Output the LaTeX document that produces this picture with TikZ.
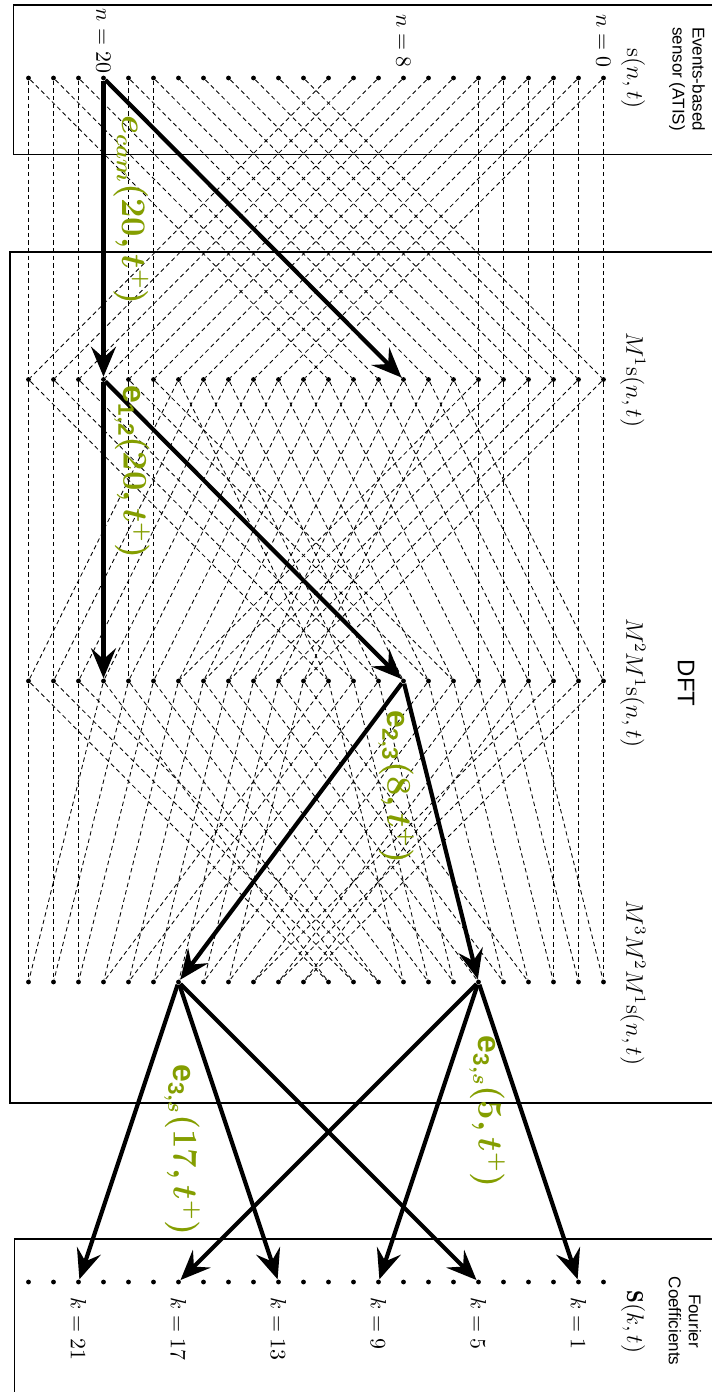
\documentclass[tikz,border=0pt]{standalone}
\usepackage{fontspec}
\setsansfont{Liberation Sans}
\usetikzlibrary{arrows.meta}
\definecolor{evgreen}{RGB}{132,158,0}
\tikzset{
  pt/.style={circle,fill=black,inner sep=0pt,minimum size=2.4pt},
  link/.style={draw=black,line width=0.42pt,dash pattern=on 2.2pt off 1.6pt},
  frame/.style={draw=black,line width=0.75pt},
  flow/.style={draw=black,line width=2.1pt,-{Stealth[length=15pt,width=12.5pt,inset=5.5pt]}},
  evlabel/.style={text=evgreen,rotate=-90,font=\fontsize{16}{19}\selectfont\boldmath,inner sep=0pt},
  rowlabel/.style={rotate=-90,inner sep=0pt,font=\fontsize{11.5}{13}\selectfont},
  idx/.style={rotate=-90,inner sep=0pt,font=\fontsize{10.5}{12}\selectfont},
  caption/.style={rotate=-90,align=center,font=\sffamily\fontsize{8.5}{10}\selectfont,inner sep=0pt}
}
\begin{document}
\begin{tikzpicture}[x=0.5pt,y=-0.5pt]
\useasboundingbox (0,0) rectangle (712,1392);
\clip (0,0) rectangle (712,1392);

% frames of the three blocks
\draw[frame] (13.5,5) rectangle (730,154.5);
\draw[frame] (10,252) rectangle (730,1103);
\draw[frame] (14.5,1239) rectangle (730,1400);

% points of the five layers
\foreach \r/\y in {0/78,1/379.5,2/681,3/982,4/1282}{
  \foreach \n in {0,...,23}{
    \node[pt] (p\r-\n) at ({603.5-25*\n},\y) {};
  }
}

% stage M^1: straight links on the outer points, +-12 crossings for all
\foreach \n in {0,1,2,3,4,5,18,19,20,21,22,23} \draw[link] (p0-\n) -- (p1-\n);
\foreach \a in {0,...,23}{
  \pgfmathtruncatemacro\b{mod(\a+12,24)}
  \draw[link] (p0-\a) -- (p1-\b);
}

% stage M^2: outer points keep their place and cross by 12,
% inner points split by +-6
\foreach \n in {0,1,2,3,4,5,18,19,20,21,22,23} \draw[link] (p1-\n) -- (p2-\n);
\foreach \a in {0,1,2,3,4,5}{
  \pgfmathtruncatemacro\b{\a+12}
  \draw[link] (p1-\a) -- (p2-\b);
}
\foreach \a in {18,19,20,21,22,23}{
  \pgfmathtruncatemacro\b{\a-12}
  \draw[link] (p1-\a) -- (p2-\b);
}
\foreach \a in {6,...,17}{
  \pgfmathtruncatemacro\b{\a-6}
  \pgfmathtruncatemacro\c{\a+6}
  \draw[link] (p1-\a) -- (p2-\b);
  \draw[link] (p1-\a) -- (p2-\c);
}

% stage M^3: three outer points on each side keep their place,
% the others split by 3 and 9
\foreach \n in {0,1,2,21,22,23} \draw[link] (p2-\n) -- (p3-\n);
\foreach \a in {0,1,2}{
  \pgfmathtruncatemacro\b{\a+12}
  \draw[link] (p2-\a) -- (p3-\b);
}
\foreach \a in {21,22,23}{
  \pgfmathtruncatemacro\b{\a-12}
  \draw[link] (p2-\a) -- (p3-\b);
}
\foreach \a in {3,...,11}{
  \pgfmathtruncatemacro\b{\a-3}
  \pgfmathtruncatemacro\c{\a+9}
  \draw[link] (p2-\a) -- (p3-\b);
  \draw[link] (p2-\a) -- (p3-\c);
}
\foreach \a in {12,...,20}{
  \pgfmathtruncatemacro\b{\a+3}
  \pgfmathtruncatemacro\c{\a-9}
  \draw[link] (p2-\a) -- (p3-\b);
  \draw[link] (p2-\a) -- (p3-\c);
}

% propagation of one event
\draw[flow] (p0-20) -- (p1-20);
\draw[flow] (p0-20) -- (p1-8);
\draw[flow] (p1-20) -- (p2-20);
\draw[flow] (p1-20) -- (p2-8);
\draw[flow] (p2-8) -- (p3-17);
\draw[flow] (p2-8) -- (p3-5);
\foreach \k in {21,13,5} \draw[flow] (p3-17) -- (p4-\k);
\foreach \k in {1,9,17} \draw[flow] (p3-5) -- (p4-\k);

% indices
\node[idx] (n0) at (603.5,41) {$n=0$};
\node[idx] (n8) at (403.5,41) {$n=8$};
\node[idx] (n20) at (103.5,41) {$n=20$};
\foreach \k in {1,5,9,13,17,21}
  \node[idx,anchor=west] (k\k) at ({603.5-25*\k},1297) {$k=\k$};

% layer labels
\node[rowlabel] (l0) at (633,79) {$\mathrm{s}(n,t)$};
\node[rowlabel] (l1) at (633,380) {$M^1\mathrm{s}(n,t)$};
\node[rowlabel] (l2) at (633,683) {$M^2M^1\mathrm{s}(n,t)$};
\node[rowlabel] (l3) at (633,983) {$M^3M^2M^1\mathrm{s}(n,t)$};
\node[rowlabel] (l4) at (633,1322) {$\mathbf{S}(k,t)$};

% block captions
\node[caption] (cap1) at (687,79) {Events-based\\sensor (ATIS)};
\node[caption,font=\sffamily\fontsize{12}{14}\selectfont] (cap2) at (686,683) {DFT};
\node[caption] (cap3) at (685,1321) {Fourier\\Coefficients};

% event labels
\node[evlabel] (ev1) at (131,210) {$e_{cam}(20,t^{+})$};
\node[evlabel] (ev2) at (132,472) {$\mathsf{e}_{\mathsf{1,2}}(20,t^{+})$};
\node[evlabel] (ev3) at (396,787) {$\mathsf{e}_{\mathsf{2,3}}(8,t^{+})$};
\node[evlabel] (ev4) at (487,1112) {$\mathsf{e}_{\mathsf{3,}s}(5,t^{+})$};
\node[evlabel] (ev5) at (182,1150) {$\mathsf{e}_{\mathsf{3,}s}(17,t^{+})$};
\end{tikzpicture}
\end{document}
